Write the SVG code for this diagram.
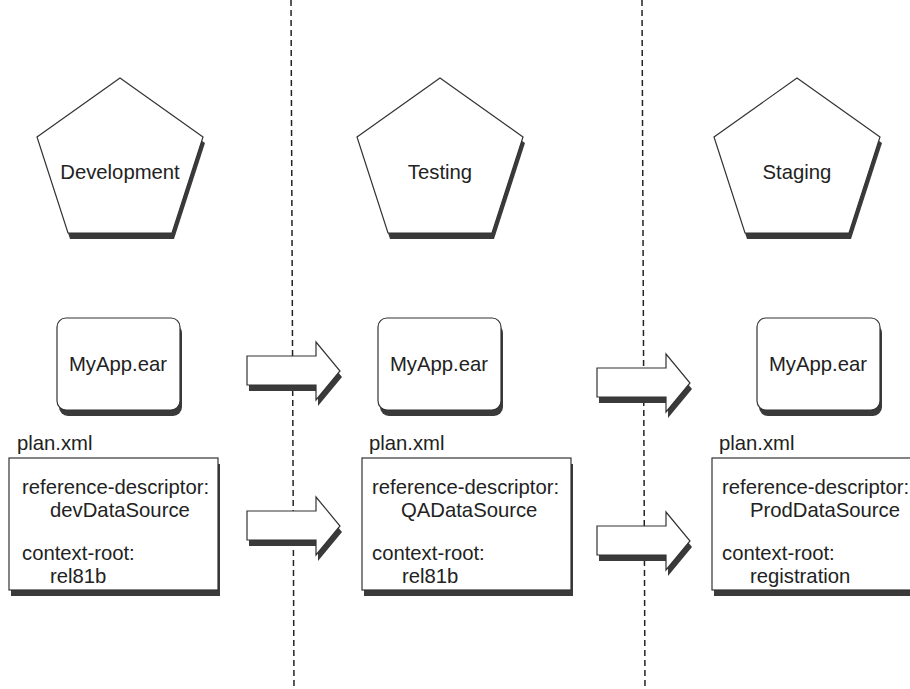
<svg xmlns="http://www.w3.org/2000/svg" width="910" height="689" viewBox="0 0 910 689">
<style>
  .bg { fill: #ffffff; }
  .sep { stroke: #222; stroke-width: 1.5; stroke-dasharray: 6 4; fill: none; }
  .shape { fill: #ffffff; stroke: #333; stroke-width: 1.2; }
  .shadow { fill: #3a3a3a; stroke: none; }
  .t { font-family: "Liberation Sans", Arial, sans-serif; font-size: 20.3px; fill: #222; }
  .c { text-anchor: middle; }
</style>
<defs>
  <polygon id="penta" points="0,0 83,59 52,155 -52,155 -83,59"/>
  <rect id="ear" x="0" y="0" width="123" height="92" rx="9" ry="9"/>
  <polygon id="arrow" points="0,14 69,14 69,0 93,29 69,58 69,43 0,43"/>
</defs>
<rect class="bg" x="0" y="0" width="910" height="689"/>
<g id="connectors">
  <line class="sep" x1="291" y1="0" x2="294" y2="689"/>
  <line class="sep" x1="642" y1="0" x2="645" y2="689"/>
</g>

<g id="development">
  <use href="#penta" class="shadow" transform="translate(122,84)"/>
  <use href="#penta" class="shape" transform="translate(120,78)"/>
  <text class="t c" x="120" y="179">Development</text>
</g>
<g id="testing">
  <use href="#penta" class="shadow" transform="translate(442,84)"/>
  <use href="#penta" class="shape" transform="translate(440,78)"/>
  <text class="t c" x="440" y="179">Testing</text>
</g>
<g id="staging">
  <use href="#penta" class="shadow" transform="translate(799,84)"/>
  <use href="#penta" class="shape" transform="translate(797,78)"/>
  <text class="t c" x="797" y="179">Staging</text>
</g>

<g id="ear-dev">
  <use href="#ear" class="shadow" transform="translate(59,324)"/>
  <use href="#ear" class="shape" transform="translate(57,318)"/>
  <text class="t c" x="118" y="371">MyApp.ear</text>
</g>
<g id="ear-test">
  <use href="#ear" class="shadow" transform="translate(380,324)"/>
  <use href="#ear" class="shape" transform="translate(378,318)"/>
  <text class="t c" x="439" y="371">MyApp.ear</text>
</g>
<g id="ear-stage">
  <use href="#ear" class="shadow" transform="translate(759,324)"/>
  <use href="#ear" class="shape" transform="translate(757,318)"/>
  <text class="t c" x="818" y="371">MyApp.ear</text>
</g>

<g id="plan-dev">
  <text class="t" x="17" y="450">plan.xml</text>
  <rect class="shadow" x="11" y="464" width="209" height="132"/>
  <rect class="shape" x="9" y="458" width="209" height="132"/>
  <text class="t" x="22" y="494">reference-descriptor:</text>
  <text class="t" x="50" y="517">devDataSource</text>
  <text class="t" x="22" y="560">context-root:</text>
  <text class="t" x="50" y="583">rel81b</text>
</g>
<g id="plan-test">
  <text class="t" x="369" y="450">plan.xml</text>
  <rect class="shadow" x="364" y="464" width="209" height="132"/>
  <rect class="shape" x="362" y="458" width="209" height="132"/>
  <text class="t" x="372" y="494">reference-descriptor:</text>
  <text class="t" x="401" y="517">QADataSource</text>
  <text class="t" x="372" y="560">context-root:</text>
  <text class="t" x="402" y="583">rel81b</text>
</g>
<g id="plan-stage">
  <text class="t" x="719" y="450">plan.xml</text>
  <rect class="shadow" x="714" y="464" width="209" height="132"/>
  <rect class="shape" x="712" y="458" width="209" height="132"/>
  <text class="t" x="722" y="494">reference-descriptor:</text>
  <text class="t" x="750" y="517">ProdDataSource</text>
  <text class="t" x="722" y="560">context-root:</text>
  <text class="t" x="750" y="583">registration</text>
</g>

<g id="arrows">
  <use href="#arrow" class="shadow" transform="translate(249,348)"/>
  <use href="#arrow" class="shape" transform="translate(247,342)"/>
  <use href="#arrow" class="shadow" transform="translate(249,503)"/>
  <use href="#arrow" class="shape" transform="translate(247,497)"/>
  <use href="#arrow" class="shadow" transform="translate(599,360)"/>
  <use href="#arrow" class="shape" transform="translate(597,354)"/>
  <use href="#arrow" class="shadow" transform="translate(599,518)"/>
  <use href="#arrow" class="shape" transform="translate(597,512)"/>
</g>
</svg>
